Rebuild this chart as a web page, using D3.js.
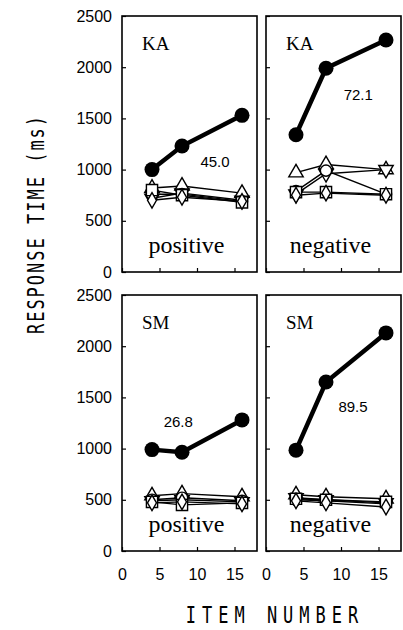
<!DOCTYPE html>
<html>
<head>
<meta charset="utf-8">
<script src="https://cdn.jsdelivr.net/npm/d3@7"></script>
<style>
  body { margin: 0; background: #fff; }
  svg text { fill: #000; }
  .tick text { font-family: "Liberation Sans", Arial, sans-serif; font-size: 16px; }
  .axis path { display: none; }
  .axis line { stroke: #000; stroke-width: 1.2; }
</style>
</head>
<body>
<div id="chart"></div>
<script>
// values
const itemNumbers = [4, 8, 16];
const yTicks = [0, 500, 1000, 1500, 2000, 2500];
const xTicks = [0, 5, 10, 15];
const subjects = ["KA", "KA", "SM", "SM"];
const conditions = ["positive", "negative", "positive", "negative"];
const slopes = ["45.0", "72.1", "26.8", "89.5"];
const openShapes = ["triUp", "triDown", "circle", "square", "diamond"];

// filled circle series (target trials)
const kaPosFilled = [1000, 1230, 1530];
const kaNegFilled = [1340, 1990, 2265];
const smPosFilled = [990, 965, 1280];
const smNegFilled = [985, 1650, 2130];

// open marker series, one row per shape (triUp, triDown, circle, square, diamond)
const kaPosOpen = [[820, 840, 770], [720, 770, 700], [760, 760, 690], [800, 750, 680], [700, 730, 690]];
const kaNegOpen = [[970, 1050, 1000], [760, 960, 1000], [790, 990, 760], [780, 780, 760], [750, 770, 750]];
const smPosOpen = [[540, 560, 530], [490, 500, 480], [500, 520, 490], [480, 450, 470], [470, 480, 460]];
const smNegOpen = [[550, 530, 510], [520, 500, 470], [500, 490, 460], [510, 500, 480], [490, 470, 430]];

const filledAll = [kaPosFilled, kaNegFilled, smPosFilled, smNegFilled];
const openAll = [kaPosOpen, kaNegOpen, smPosOpen, smNegOpen];

const width = 403, height = 630;
// panel frames: [left, right] columns, [top, bottom] rows
const cols = [[122, 257], [266, 401]];
const rows = [[16, 272], [295, 551]];
// where the slope numbers sit, in data units
const slopePos = [[12.4, 1025], [12.3, 1680], [7.5, 1210], [11.6, 1357]];

const svg = d3.select("#chart")
    .append("svg")
    .attr("width", width)
    .attr("height", height);

const symbolFor = {
    triUp: d3.symbol().type(d3.symbolTriangle).size(90),
    triDown: d3.symbol().type(d3.symbolTriangle).size(90),
    circle: d3.symbol().type(d3.symbolCircle).size(100),
    square: d3.symbol().type(d3.symbolSquare).size(125),
    diamond: d3.symbol().type(d3.symbolDiamond).size(70)
};

subjects.forEach(function (subj, i) {
    const col = cols[i % 2], row = rows[Math.floor(i / 2)];
    const x = d3.scaleLinear().domain([0, 18]).range(col);
    const y = d3.scaleLinear().domain([0, 2500]).range([row[1], row[0]]);
    const g = svg.append("g");

    // frame
    g.append("rect")
        .attr("x", col[0]).attr("y", row[0])
        .attr("width", col[1] - col[0]).attr("height", row[1] - row[0])
        .attr("fill", "none").attr("stroke", "#000").attr("stroke-width", 1.6);

    // inward ticks, labels only on the outer side
    g.append("g")
        .attr("class", "axis")
        .attr("transform", `translate(${col[0]},0)`)
        .call(d3.axisLeft(y).tickValues(yTicks).tickSizeInner(-4).tickSizeOuter(0).tickPadding(10)
            .tickFormat(i % 2 == 0 ? d3.format("d") : ""));

    g.append("g")
        .attr("class", "axis")
        .attr("transform", `translate(0,${row[1]})`)
        .call(d3.axisBottom(x).tickValues(xTicks).tickSizeInner(-4).tickSizeOuter(0).tickPadding(18)
            .tickFormat(i >= 2 ? d3.format("d") : ""));

    const line = d3.line().x((d, k) => x(itemNumbers[k])).y(d => y(d));

    // open series
    openAll[i].forEach(function (vals) {
        g.append("path")
            .attr("d", line(vals))
            .attr("fill", "none").attr("stroke", "#000").attr("stroke-width", 1.4);
    });
    openAll[i].forEach(function (vals, s) {
        const shape = openShapes[s];
        g.selectAll(null)
            .data(vals)
            .enter()
            .append("path")
            .attr("d", symbolFor[shape])
            .attr("transform", (d, k) => `translate(${x(itemNumbers[k])},${y(d)})` + (shape == "triDown" ? " rotate(180)" : ""))
            .attr("fill", "#fff").attr("stroke", "#000").attr("stroke-width", 1.4);
    });

    // filled series
    g.append("path")
        .attr("d", line(filledAll[i]))
        .attr("fill", "none").attr("stroke", "#000").attr("stroke-width", 4.5);
    g.selectAll(null)
        .data(filledAll[i])
        .enter()
        .append("circle")
        .attr("cx", (d, k) => x(itemNumbers[k]))
        .attr("cy", d => y(d))
        .attr("r", 7.5)
        .attr("fill", "#000");

    // labels
    g.append("text")
        .attr("x", col[0] + 20).attr("y", row[0] + 34)
        .attr("font-family", "Liberation Serif, Times New Roman, serif")
        .attr("font-size", 19)
        .text(subj);

    g.append("text")
        .attr("x", (col[0] + col[1]) / 2 - 3).attr("y", row[1] - 19)
        .attr("text-anchor", "middle")
        .attr("font-family", "Liberation Serif, Times New Roman, serif")
        .attr("font-size", 24)
        .text(conditions[i]);

    g.append("text")
        .attr("x", x(slopePos[i][0])).attr("y", y(slopePos[i][1]))
        .attr("text-anchor", "middle")
        .attr("font-family", "Liberation Sans, Arial, sans-serif")
        .attr("font-size", 15)
        .text(slopes[i]);
});

// axis titles
svg.append("text")
    .attr("transform", "translate(44,224) rotate(-90) scale(1,1.4)")
    .attr("text-anchor", "middle")
    .attr("font-family", "DejaVu Sans Mono, monospace")
    .attr("font-size", 17)
    .attr("letter-spacing", 2)
    .text("RESPONSE TIME (ms)");

svg.append("text")
    .attr("transform", "translate(275,623) scale(1,1.35)")
    .attr("text-anchor", "middle")
    .attr("font-family", "DejaVu Sans Mono, monospace")
    .attr("font-size", 17)
    .attr("letter-spacing", 6)
    .text("ITEM NUMBER");
</script>
</body>
</html>
